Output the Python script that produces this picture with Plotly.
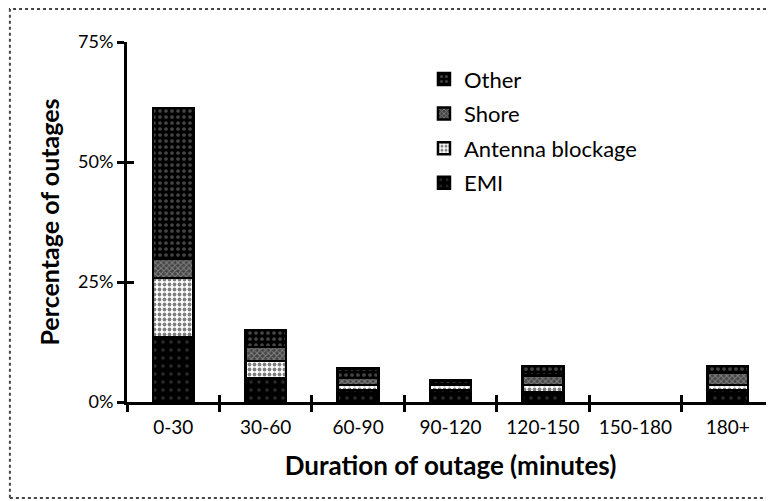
import plotly.graph_objects as go

categories = ["0-30", "30-60", "60-90", "90-120", "120-150", "150-180", "180+"]
emi = [13.5, 5.0, 2.5, 2.5, 2.0, None, 2.5]
antenna = [12.3, 3.5, 1.0, 1.0, 1.5, None, 1.0]
shore = [4.0, 3.0, 1.5, 0.0, 2.0, None, 2.5]
other = [31.5, 3.5, 2.0, 1.0, 2.0, None, 1.5]
y_ticks = [0, 25, 50, 75]
y_tick_labels = ["0%", "25%", "50%", "75%"]
boundary_ticks = [-0.5, 0.5, 1.5, 2.5, 3.5, 4.5, 5.5, 6.5]

FONT = "Lato"

series = [
    ("EMI", emi, dict(shape=".", bgcolor="black", fgcolor="#555555", size=8, solidity=0.15), 4),
    ("Antenna blockage", antenna, dict(shape=".", bgcolor="white", fgcolor="black", size=5, solidity=0.45), 3),
    ("Shore", shore, dict(shape="x", bgcolor="#444444", fgcolor="#bbbbbb", size=4, solidity=0.45), 2),
    ("Other", other, dict(shape=".", bgcolor="black", fgcolor="#8a8a8a", size=6, solidity=0.3), 1),
]

fig = go.Figure()
for name, vals, pat, rank in series:
    fig.add_trace(go.Bar(
        x=categories, y=vals, name=name, legendgroup=name, legendrank=rank,
        width=0.44,
        marker=dict(color="black", line=dict(color="black", width=2.5), pattern=pat),
    ))

# invisible helper trace so the overlay axes (used for the crossing tick marks) get drawn
fig.add_trace(go.Scatter(x=[0], y=[0], xaxis="x2", yaxis="y2", mode="markers",
                         marker=dict(opacity=0), showlegend=False, hoverinfo="skip"))

fig.update_layout(
    barmode="stack",
    width=766, height=493,
    margin=dict(l=119, r=0, t=34, b=99),
    paper_bgcolor="white", plot_bgcolor="white",
    font=dict(family=FONT, color="black", size=18),
    showlegend=True,
    legend=dict(
        x=0.459, y=0.955, xanchor="left", yanchor="top",
        traceorder="grouped", tracegroupgap=3,
        font=dict(family=FONT, size=22, color="black"),
        bgcolor="rgba(0,0,0,0)",
    ),
    xaxis=dict(
        type="category", range=[-0.5, 6.5],
        showline=True, linecolor="black", linewidth=3,
        ticks="outside", ticklen=7, tickwidth=3, tickcolor="black",
        tickson="boundaries", showgrid=False, zeroline=False,
        tickfont=dict(family=FONT, size=19), ticklabelstandoff=6,
        title=dict(text="<b>Duration of outage (minutes)</b>", font=dict(family=FONT, size=26), standoff=21),
    ),
    xaxis2=dict(
        overlaying="x", anchor="y2", range=[-0.5, 6.5],
        tickvals=boundary_ticks,
        ticks="inside", ticklen=7, tickwidth=3, tickcolor="black",
        showticklabels=False, showgrid=False, zeroline=False, showline=False,
    ),
    yaxis=dict(
        range=[0, 75],
        tickvals=y_ticks, ticktext=y_tick_labels,
        showline=True, linecolor="black", linewidth=3,
        ticks="outside", ticklen=7, tickwidth=3, tickcolor="black",
        showgrid=False, zeroline=False,
        tickfont=dict(family=FONT, size=18),
        title=dict(text="<b>Percentage of outages</b>", font=dict(family=FONT, size=25), standoff=12),
    ),
    yaxis2=dict(
        overlaying="y", anchor="x2", range=[0, 75],
        tickvals=y_ticks,
        ticks="inside", ticklen=7, tickwidth=3, tickcolor="black",
        showticklabels=False, showgrid=False, zeroline=False, showline=False,
    ),
    shapes=[dict(
        type="rect", xref="paper", yref="paper",
        x0=-0.181, x1=1.05, y0=-0.267, y1=1.092,
        line=dict(color="#444444", width=2, dash="dot"),
        layer="below",
    )],
)

fig.write_html("out.html")
